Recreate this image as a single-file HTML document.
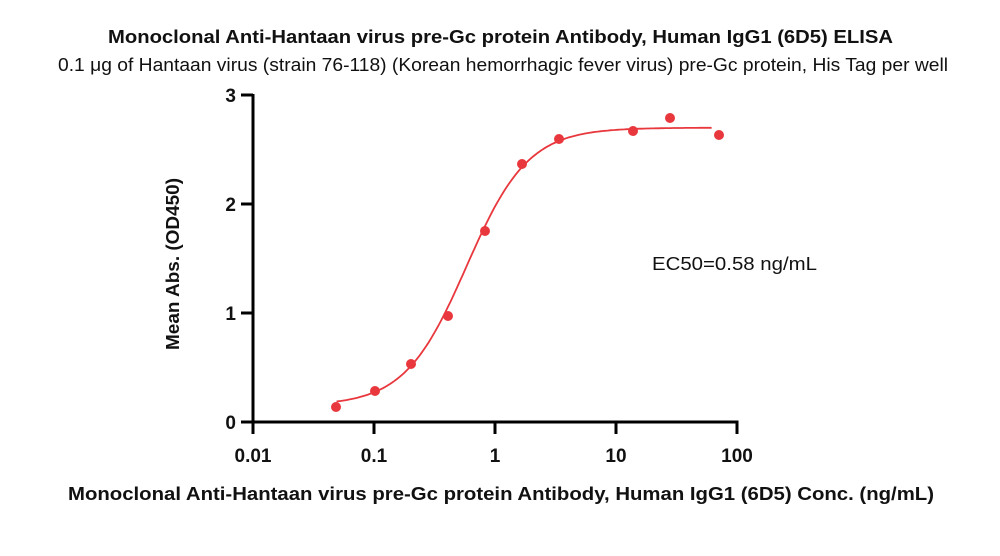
<!DOCTYPE html>
<html><head><meta charset="utf-8"><style>
body{margin:0;background:#fff;}
svg{display:block;font-family:"Liberation Sans","DejaVu Sans",sans-serif;}
</style></head><body>
<svg id="s" width="1000" height="556" viewBox="0 0 1000 556" xmlns="http://www.w3.org/2000/svg">
<text x="108" y="43" font-size="18" font-weight="bold" fill="#111" textLength="785" lengthAdjust="spacingAndGlyphs">Monoclonal Anti-Hantaan virus pre-Gc protein Antibody, Human IgG1 (6D5) ELISA</text>
<text x="58" y="71" font-size="18.5" fill="#111" textLength="890" lengthAdjust="spacingAndGlyphs">0.1 μg of Hantaan virus (strain 76-118) (Korean hemorrhagic fever virus) pre-Gc protein, His Tag per well</text>
<g stroke="#000" stroke-width="3" fill="none">
<line x1="253" y1="94" x2="253" y2="423.5"/>
<line x1="251.5" y1="422" x2="738.5" y2="422"/>
<line x1="241" y1="95" x2="253" y2="95"/>
<line x1="241" y1="204" x2="253" y2="204"/>
<line x1="241" y1="313" x2="253" y2="313"/>
<line x1="241" y1="422" x2="253" y2="422"/>
<line x1="253" y1="422" x2="253" y2="434"/>
<line x1="374" y1="422" x2="374" y2="434"/>
<line x1="495" y1="422" x2="495" y2="434"/>
<line x1="616" y1="422" x2="616" y2="434"/>
<line x1="737" y1="422" x2="737" y2="434"/>
</g>
<g font-size="19" font-weight="bold" fill="#111" text-anchor="end">
<text x="236" y="102">3</text><text x="236" y="211">2</text><text x="236" y="320">1</text><text x="236" y="429">0</text>
</g>
<g font-size="19" font-weight="bold" fill="#111" text-anchor="middle">
<text x="253" y="462">0.01</text><text x="374" y="462">0.1</text><text x="495" y="462">1</text><text x="616" y="462">10</text><text x="737" y="462">100</text>
</g>
<text x="68" y="500" font-size="18.5" font-weight="bold" fill="#111" textLength="866" lengthAdjust="spacingAndGlyphs">Monoclonal Anti-Hantaan virus pre-Gc protein Antibody, Human IgG1 (6D5) Conc. (ng/mL)</text>
<text transform="translate(179,264) rotate(-90)" text-anchor="middle" font-size="18.5" font-weight="bold" fill="#111" textLength="172" lengthAdjust="spacingAndGlyphs">Mean Abs. (OD450)</text>
<text x="652" y="270" font-size="18.5" fill="#111" textLength="165" lengthAdjust="spacingAndGlyphs">EC50=0.58 ng/mL</text>
<polyline id="c" fill="none" stroke="#e8383d" stroke-width="1.8"/>
<g id="p" fill="#e8383d"></g>
</svg>
<script>
function X(v){return 253+(Math.log10(v)+2)*121;}
function Y(v){return 422-v*109;}
function f(x){return 0.15+2.55/(1+Math.pow(0.58/x,1.7));}
var pts=[];
for(var l=Math.log10(0.049);l<=Math.log10(62.5)+1e-9;l+=0.02){var x=Math.pow(10,l);pts.push(X(x).toFixed(1)+","+Y(f(x)).toFixed(1));}
document.getElementById("c").setAttribute("points",pts.join(" "));
var d=[[336,407],[375,391],[411,364],[448,316],[485,231],[522,164],[559,139],[633,131],[670,118],[719,135]];
var g=document.getElementById("p"),h="";
d.forEach(function(q){h+='<circle cx="'+q[0]+'" cy="'+q[1]+'" r="5"/>';});
g.innerHTML=h;
</script>
</body></html>
